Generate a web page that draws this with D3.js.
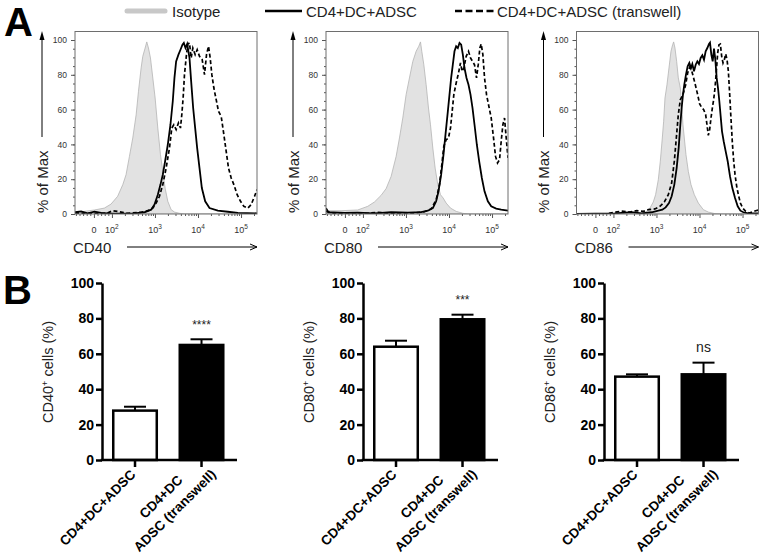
<!DOCTYPE html>
<html>
<head>
<meta charset="utf-8">
<script src="https://cdn.jsdelivr.net/npm/d3@7"></script>
<style>
  body { margin: 0; background: #fff; }
  svg { font-family: "Liberation Sans", Arial, sans-serif; }
</style>
</head>
<body>
<svg id="fig" width="763" height="558"></svg>
<script>
// ---- A: flow histograms, points are [fluorescence, % of max] ----
const markers = ["CD40", "CD80", "CD86"];
const legendLabels = ["Isotype", "CD4+DC+ADSC", "CD4+DC+ADSC (transwell)"];
const flowTicks = [0, 100, 1000, 10000, 100000];
const flowTickLabels = [["0", ""], ["10", "2"], ["10", "3"], ["10", "4"], ["10", "5"]];
const flowMinor = [-100, -80, -60, -40, -20, 20, 40, 60, 80,
  200, 300, 400, 500, 600, 700, 800, 900,
  2000, 3000, 4000, 5000, 6000, 7000, 8000, 9000,
  20000, 30000, 40000, 50000, 60000, 70000, 80000, 90000, 200000];
const pctTicks = [0, 20, 40, 60, 80, 100];

const isoCD40 = [[-105,1.0],[-53,1.5],[3,2.3],[58,3.4],[95,5.7],[136,10.2],[179,16.9],[213,22.6],[255,33.1],[305,43.7],[365,57],[414,70.5],[477,84],[521,90.6],[591,95.4],[645,98.9],[706,95.4],[786,89.7],[891,78.2],[1009,66.7],[1164,49.4],[1343,34.1],[1521,24.5],[1722,14.9],[1986,7.3],[2376,2.5],[2840,1.1],[3714,0.4],[4853,0],[235000,0]];
const ctrlCD40 = [[-105,1.0],[-71,1.5],[-34,0.4],[3,1.3],[40,0.6],[95,0.2],[195,0.2],[334,0.4],[570,1.0],[814,2.5],[975,5.4],[1164,11.1],[1343,16.9],[1521,22.6],[1722,30.3],[1986,39.8],[2290,51.3],[2594,64.8],[2837,78.2],[3102,87.7],[3514,91.6],[3914,94.4],[4357,97.3],[4686,98.3],[5119,95.4],[5600,97.7],[6343,89.7],[6935,76.2],[7722,60.9],[8596,49.4],[9571,37.9],[10846,26.4],[12289,14.9],[14687,7.3],[18510,3.4],[28910,1.9],[49400,1.3],[84400,0.6],[235000,0.4]];
const transCD40 = [[-105,0.6],[-34,0.4],[70,0.4],[105,1.9],[136,1.5],[233,0.4],[477,1.0],[681,1.9],[891,3.4],[1064,6.3],[1273,10.2],[1521,16.9],[1818,26.4],[2173,37.9],[2461,49.4],[2741,51.3],[3103,48.5],[3515,52.3],[3915,49.4],[4204,57.1],[4515,66.7],[4849,80.1],[5400,91.6],[5800,97.7],[6343,98.3],[6935,89.7],[7583,95.4],[8596,91.6],[9571,94.4],[10846,90.6],[12512,88.7],[14170,80.1],[15780,91.6],[17550,96.4],[19190,89.7],[20990,80.1],[23370,72.4],[26470,65.7],[29980,59],[34590,56.1],[39910,45.6],[45200,36],[51200,26.4],[59060,20.7],[68140,16.9],[81390,11.1],[97300,7.3],[116300,4.4],[144100,3.4],[172200,5.4],[206000,10.2],[235000,14]];

const isoCD80 = [[-105,3.4],[-95,1.9],[-21,1.9],[71,2.3],[129,4.4],[185,6.9],[264,10.7],[346,14.6],[452,21.6],[591,33.1],[706,43.7],[844,55.2],[1008,68.6],[1206,78.2],[1442,87.7],[1723,93.5],[1987,96.4],[2174,98.9],[2333,93.5],[2600,85.8],[2945,74.3],[3338,60.9],[3714,51.3],[4208,37.9],[4768,26.4],[5497,16.9],[6338,11.1],[7307,9.2],[8589,6.3],[10830,3.4],[14680,1.5],[20990,0.4],[27430,0],[235000,0]];
const ctrlCD80 = [[-105,3.4],[-92,1.0],[-3,0.6],[71,0.8],[185,0.4],[452,1.0],[1104,0.8],[2254,1.1],[3220,1.9],[4208,3.4],[5032,7.3],[5701,13.0],[6571,22.6],[7450,34.1],[8290,45.6],[9400,59.0],[10450,70.5],[11220,78.2],[12270,85.8],[13420,93.5],[14680,96.4],[16040,95.4],[17540,98.3],[19180,97.3],[20990,91.6],[22930,83.9],[25530,78.2],[28400,74.3],[31620,68.6],[35220,60.9],[39190,51.3],[44390,39.8],[50310,30.3],[58000,20.7],[66900,13.0],[80000,7.3],[95700,4.4],[125000,3.1],[163300,2.5],[235000,1.9]];
const transCD80 = [[-105,1.5],[-58,0.4],[34,0.6],[129,0.4],[221,1.0],[378,0.4],[773,0.6],[1578,0.6],[2692,1.3],[3847,2.9],[5032,8.2],[6012,16.9],[6811,28.4],[7585,38.9],[8589,42.7],[9727,43.7],[10830,49.4],[11850,59.0],[12950,68.6],[14680,75.3],[16630,81.0],[18500,86.8],[20240,82.0],[22130,83.9],[25070,90.6],[28400,93.5],[31620,89.7],[35220,87.7],[39190,85.8],[43630,78.2],[47740,85.8],[52140,95.4],[56000,97.7],[61240,91.6],[66970,78.2],[74540,68.6],[82980,62.8],[95700,55.2],[108400,43.7],[120600,33.1],[134200,29.3],[149400,31.2],[163300,41.8],[178600,51.3],[195300,55.2],[213400,43.7],[235000,32.2]];

const isoCD86 = [[-105,0],[71,0],[316,0.2],[452,0.6],[591,1.5],[706,3.4],[844,6.9],[955,11.1],[1104,19.7],[1228,30.3],[1367,43.7],[1469,53.3],[1578,66.7],[1755,74.3],[1953,83.9],[2174,93.5],[2377,97.3],[2508,98.9],[2692,95.4],[2945,87.7],[3220,78.2],[3583,72.4],[3847,62.8],[4130,51.3],[4434,43.7],[4851,34.1],[5497,24.5],[6338,16.9],[7585,11.1],[9400,6.3],[12270,2.5],[16040,1.1],[22930,0.2],[32800,0],[235000,0]];
const ctrlCD86 = [[-105,0],[-3,0.2],[108,0.4],[264,1.1],[452,0.4],[773,1.0],[1104,1.9],[1367,2.5],[1635,3.8],[1953,6.3],[2254,10.2],[2600,16.9],[2945,26.4],[3280,37.9],[3583,51.3],[3847,60.9],[4130,68.6],[4434,74.3],[4851,80.1],[5307,84.9],[5806,86.8],[6338,83.9],[6811,86.2],[7450,82.0],[8150,85.8],[8916,87.7],[9727,86.2],[10640,89.7],[11640,91.2],[12730,88.7],[13900,93.5],[15210,95.4],[16630,97.7],[17540,98.5],[18840,91.6],[20240,87.7],[21730,95.0],[23330,88.7],[25070,78.2],[26920,72.4],[28910,64.8],[31050,56.1],[33340,47.5],[36480,41.8],[40610,36.0],[45200,30.3],[51200,21.6],[58000,14.9],[66970,9.2],[77300,4.4],[89200,1.9],[104500,1.0],[136700,0.4],[235000,0.4]];
const transCD86 = [[-105,0],[60,0],[108,1.0],[155,1.7],[242,1.1],[346,1.9],[494,1.5],[646,2.5],[922,2.9],[1206,4.4],[1521,6.9],[1885,11.1],[2254,17.8],[2600,30.3],[2893,43.7],[3220,57.1],[3583,65.7],[4130,68.6],[4768,74.3],[5307,81.0],[5907,84.3],[6571,82.4],[7307,78.2],[8150,73.4],[9065,68.6],[10090,63.2],[11220,61.3],[12500,60.0],[13900,57.1],[14930,51.3],[16040,45.2],[17230,48.5],[18500,55.2],[19870,60.9],[21340,65.7],[22930,72.4],[24620,82.0],[26440,92.5],[28400,97.3],[30500,97.7],[32780,90.6],[35220,86.8],[37830,88.7],[40610,92.0],[43630,88.7],[46880,82.0],[50350,68.6],[54080,54.2],[58080,40.8],[62390,30.3],[66970,22.6],[73160,15.9],[79980,11.1],[89200,6.3],[100900,3.4],[118600,1.5],[141700,0.6],[169400,1.1],[202400,1.9],[235000,2.3]];

// ---- B: bar charts ----
const groups = ["CD4+DC+ADSC", "CD4+DC\nADSC (transwell)"];
const cd40Mean = [27.9, 65.0], cd40Sem = [2.2, 3.2];
const cd80Mean = [64.0, 79.5], cd80Sem = [3.4, 2.6];
const cd86Mean = [47.1, 48.4], cd86Sem = [1.3, 6.6];
const sigLabels = ["****", "***", "ns"];
const barTicks = [0, 20, 40, 60, 80, 100];

const svg = d3.select("#fig");

// biexponential-like display transform: linear below 100, log above
function flowT(v) { return v >= 100 ? Math.log10(v) : 2 + (v - 100) * 0.004186; }

const histLeft = [75, 326, 576.5], histW = 182, histTop = 31.5, histBottom = 214;
const xLin = d3.scaleLinear().domain([flowT(-105), flowT(235000)]).range([0, histW]);
const fx = v => xLin(flowT(v));
const yH = d3.scaleLinear().domain([0, 100]).range([histBottom, 40]);

const flowPanels = [
  {marker: markers[0], iso: isoCD40, ctrl: ctrlCD40, trans: transCD40},
  {marker: markers[1], iso: isoCD80, ctrl: ctrlCD80, trans: transCD80},
  {marker: markers[2], iso: isoCD86, ctrl: ctrlCD86, trans: transCD86}
];

const area = d3.area().x(d => fx(d[0])).y0(yH(0)).y1(d => yH(d[1]));
const line = d3.line().x(d => fx(d[0])).y(d => yH(d[1]));

flowPanels.forEach((p, i) => {
  const g = svg.append("g").attr("transform", `translate(${histLeft[i]},0)`);
  const clipId = "clip" + i;
  g.append("clipPath").attr("id", clipId)
    .append("rect").attr("x", 0).attr("y", histTop).attr("width", histW).attr("height", histBottom - histTop);

  const plot = g.append("g").attr("clip-path", `url(#${clipId})`);
  plot.append("path").datum(p.iso).attr("d", area)
    .attr("fill", "#e2e2e2").attr("stroke", "#b4b4b4").attr("stroke-width", 0.8);
  plot.append("path").datum(p.ctrl).attr("d", line)
    .attr("fill", "none").attr("stroke", "#000").attr("stroke-width", 1.8);
  plot.append("path").datum(p.trans).attr("d", line)
    .attr("fill", "none").attr("stroke", "#000").attr("stroke-width", 1.7)
    .attr("stroke-dasharray", "4,2.5");

  // y axis
  g.append("g")
    .call(d3.axisLeft(yH).tickValues(d3.range(0, 101, 5)).tickSize(2).tickFormat(""));
  g.append("g")
    .call(d3.axisLeft(yH).tickValues(pctTicks).tickSize(4).tickPadding(4))
    .call(a => a.selectAll("text").attr("font-size", 8.5).attr("fill", "#333"));

  // x axis (ticks in display units)
  const xb = g.append("g").attr("transform", `translate(0,${histBottom})`);
  xb.append("g").call(d3.axisBottom(xLin).tickValues(flowMinor.map(flowT)).tickSize(2).tickFormat(""));
  xb.append("g").call(d3.axisBottom(xLin).tickValues(flowTicks.map(flowT)).tickSize(4).tickFormat(""));
  g.selectAll(".domain").remove();
  g.selectAll(".tick line").attr("stroke", "#555");

  flowTicks.forEach((t, k) => {
    const lbl = g.append("text").attr("x", fx(t)).attr("y", 233)
      .attr("text-anchor", "middle").attr("font-size", 9).attr("fill", "#333");
    lbl.append("tspan").text(flowTickLabels[k][0]);
    if (flowTickLabels[k][1]) {
      lbl.append("tspan").attr("dy", -4).attr("font-size", 6.5).text(flowTickLabels[k][1]);
    }
  });

  g.append("rect").attr("x", 0).attr("y", histTop).attr("width", histW).attr("height", histBottom - histTop)
    .attr("fill", "none").attr("stroke", "#6e6e6e").attr("stroke-width", 1);

  // "% of Max" with upward arrow
  g.append("text").attr("transform", `translate(-27.5,${histBottom - 1}) rotate(-90)`)
    .attr("font-size", 15).attr("fill", "#222").text("% of Max");
  g.append("line").attr("x1", -33).attr("x2", -33).attr("y1", 137).attr("y2", 36)
    .attr("stroke", "#000").attr("stroke-width", 1);
  g.append("path").attr("d", "M-33,31 L-35.5,40 L-30.5,40 Z").attr("fill", "#000");

  // marker label with right arrow
  g.append("text").attr("x", -2).attr("y", 252.5).attr("font-size", 15).attr("fill", "#222").text(p.marker);
  g.append("line").attr("x1", 52).attr("x2", histW).attr("y1", 247).attr("y2", 247)
    .attr("stroke", "#000").attr("stroke-width", 1);
  g.append("path").attr("d", `M${histW - 7},244 L${histW},247 L${histW - 7},250`)
    .attr("fill", "none").attr("stroke", "#000").attr("stroke-width", 1);
});

// legend
const legend = svg.append("g");
legend.append("line").attr("x1", 127).attr("x2", 165).attr("y1", 11).attr("y2", 11)
  .attr("stroke", "#c8c8c8").attr("stroke-width", 5).attr("stroke-linecap", "round");
legend.append("text").attr("x", 172).attr("y", 16.5).attr("font-size", 15).attr("fill", "#222").text(legendLabels[0]);
legend.append("line").attr("x1", 265).attr("x2", 302).attr("y1", 11).attr("y2", 11)
  .attr("stroke", "#000").attr("stroke-width", 2.5);
legend.append("text").attr("x", 306).attr("y", 16.5).attr("font-size", 15).attr("fill", "#222").text(legendLabels[1]);
legend.append("line").attr("x1", 455).attr("x2", 494).attr("y1", 11).attr("y2", 11)
  .attr("stroke", "#000").attr("stroke-width", 2.5).attr("stroke-dasharray", "7,3.5");
legend.append("text").attr("x", 497).attr("y", 16.5).attr("font-size", 15).attr("fill", "#222").text(legendLabels[2]);

// panel letters
svg.append("text").attr("x", 4).attr("y", 36).attr("font-size", 40).attr("font-weight", "bold").text("A");
svg.append("text").attr("x", 3).attr("y", 304).attr("font-size", 40).attr("font-weight", "bold").text("B");

// ---- B panels ----
const barLeft = [102, 363, 604], barW = 135;
const yB = d3.scaleLinear().domain([0, 100]).range([460, 283]);
const barPanels = [
  {marker: markers[0], mean: cd40Mean, sem: cd40Sem, sig: sigLabels[0]},
  {marker: markers[1], mean: cd80Mean, sem: cd80Sem, sig: sigLabels[1]},
  {marker: markers[2], mean: cd86Mean, sem: cd86Sem, sig: sigLabels[2]}
];
const barFill = ["#fff", "#000"];

barPanels.forEach((p, i) => {
  const g = svg.append("g").attr("transform", `translate(${barLeft[i]},0)`);
  const x = d3.scaleBand().domain(groups).range([0, barW])
    .paddingInner(0.308).paddingOuter(0.169).align(0.445);
  const bw = x.bandwidth();

  // error bars (upper only)
  groups.forEach((grp, k) => {
    const cx = x(grp) + bw / 2;
    const top = yB(p.mean[k] + p.sem[k]);
    g.append("line").attr("x1", cx).attr("x2", cx).attr("y1", yB(p.mean[k])).attr("y2", top)
      .attr("stroke", "#000").attr("stroke-width", 2);
    g.append("line").attr("x1", cx - 11).attr("x2", cx + 11).attr("y1", top).attr("y2", top)
      .attr("stroke", "#000").attr("stroke-width", 2);
  });

  g.selectAll(".bar").data(groups).enter().append("rect")
    .attr("class", "bar")
    .attr("x", d => x(d) + 1.25)
    .attr("y", (d, k) => yB(p.mean[k]))
    .attr("width", bw - 2.5)
    .attr("height", (d, k) => yB(0) - yB(p.mean[k]))
    .attr("fill", (d, k) => barFill[k])
    .attr("stroke", "#000").attr("stroke-width", 2.5);

  // axes
  g.append("g")
    .call(d3.axisLeft(yB).tickValues(barTicks).tickSize(6).tickSizeOuter(0).tickPadding(2))
    .call(a => a.select(".domain").attr("stroke-width", 2.5))
    .call(a => a.selectAll(".tick line").attr("stroke-width", 2.5))
    .call(a => a.selectAll("text").attr("font-size", 14).attr("font-weight", "bold")
      .attr("fill", "#000").attr("font-family", "'Liberation Sans', Arial, sans-serif"));
  g.append("g").attr("transform", "translate(0,460)")
    .call(d3.axisBottom(x).tickSize(7).tickSizeOuter(0).tickFormat(""))
    .call(a => a.select(".domain").attr("d", `M-1.25,0H${barW}`).attr("stroke-width", 2.5))
    .call(a => a.selectAll(".tick line").attr("stroke-width", 2.5));

  // rotated group labels
  groups.forEach(grp => {
    const lines = grp.split("\n");
    const lg = g.append("g")
      .attr("transform", `translate(${x(grp) + bw / 2},467) rotate(-45)`);
    const lineH = 19.5;
    const endX = lines.length > 1 ? 5 : -5;
    const texts = lines.map((t, k) => lg.append("text")
      .attr("y", (k - (lines.length - 1) / 2) * lineH + 2 + 4.8)
      .attr("font-size", 13.5).attr("font-weight", "bold").text(t));
    const maxW = d3.max(texts, t => t.node().getComputedTextLength());
    texts.forEach(t => t.attr("text-anchor", "middle").attr("x", endX - maxW / 2));
  });

  // significance
  g.append("text").attr("x", x(groups[1]) + bw / 2)
    .attr("y", yB(p.mean[1] + p.sem[1]) - 10.5)
    .attr("text-anchor", "middle").attr("font-size", p.sig === "ns" ? 14 : 12)
    .attr("fill", "#222").text(p.sig);

  // y title
  const yt = g.append("text").attr("transform", "translate(-49.5,372) rotate(-90)")
    .attr("text-anchor", "middle").attr("font-size", 14.5).attr("fill", "#222");
  yt.append("tspan").text(p.marker);
  yt.append("tspan").attr("dy", -5).attr("font-size", 9).text("+");
  yt.append("tspan").attr("dy", 5).text(" cells (%)");
});
</script>
</body>
</html>
